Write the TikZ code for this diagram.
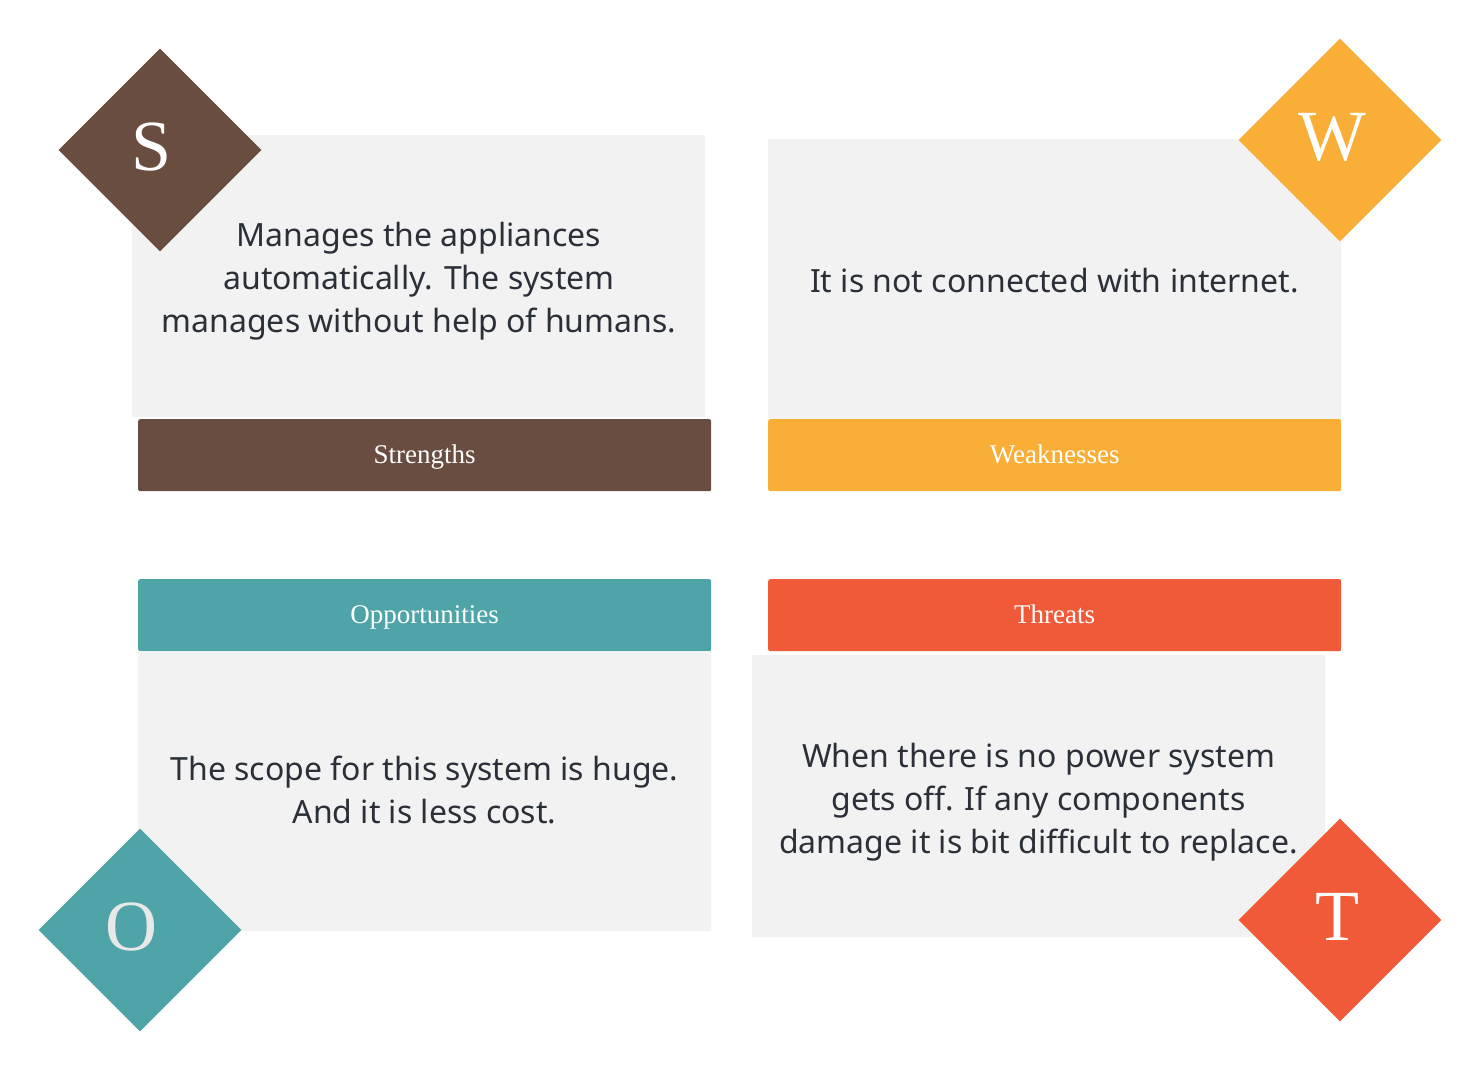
\documentclass[tikz,border=0pt]{standalone}
\usepackage{fontspec}
\setmainfont{Liberation Serif}
\newfontfamily\bodyfont{Noto Sans}
\usetikzlibrary{shapes.geometric}

\definecolor{sbrown}{HTML}{694D40}
\definecolor{worange}{HTML}{F9AE38}
\definecolor{oteal}{HTML}{4FA4A8}
\definecolor{tred}{HTML}{F15A38}
\definecolor{panelgray}{HTML}{F2F2F2}
\definecolor{bodytext}{HTML}{2B3038}
\definecolor{lettergray}{HTML}{E8E8E8}

\tikzset{
  panel/.style={fill=panelgray, draw=none, rounded corners=1pt, inner sep=0pt,
    minimum width=573pt, minimum height=282pt, anchor=north west},
  bodytxt/.style={text=bodytext, align=center, inner sep=0pt,
    font=\bodyfont\fontsize{32}{43}\selectfont},
  labelbar/.style={fill=#1, draw=none, rounded corners=2pt, inner sep=0pt,
    minimum width=573pt, minimum height=72pt, anchor=north west,
    text height=21.5pt, text depth=5pt,
    text=white, font=\fontsize{27}{30}\selectfont},
  badge/.style={diamond, fill=#1, draw=none, inner sep=0pt, aspect=1,
    minimum width=203pt, minimum height=203pt},
  badgeletter/.style={text=white, inner sep=0pt, font=\fontsize{72}{72}\selectfont},
}

\begin{document}
\begin{tikzpicture}[x=1pt, y=-1pt]
  \useasboundingbox (0,0) rectangle (1480,1070);

  % Strengths
  \node[panel] (spanel) at (132,135) {};
  \node[bodytxt] (stext) at (419,281) {Manages the appliances\\automatically. The system\\manages without help of humans.};
  \node[labelbar=sbrown] (sbar) at (138,419) {Strengths};
  \node[badge=sbrown] (sbadge) at (160,150) {};
  \node[badgeletter] (sletter) at ([shift={(-8,-3)}]sbadge.center) {S};

  % Weaknesses
  \node[panel, minimum height=280pt] (wpanel) at (768,139) {};
  \node[bodytxt] (wtext) at (1054.5,281) {It is not connected with internet.};
  \node[labelbar=worange] (wbar) at (768,419) {Weaknesses};
  \node[badge=worange] (wbadge) at (1340,140) {};
  \node[badgeletter] (wletter) at ([shift={(-8,-3)}]wbadge.center) {W};

  % Opportunities
  \node[labelbar=oteal] (obar) at (138,579) {Opportunities};
  \node[panel, minimum height=280pt] (opanel) at (138,651) {};
  \node[bodytxt] (otext) at (424.5,790) {The scope for this system is huge.\\And it is less cost.};
  \node[badge=oteal] (obadge) at (140,930) {};
  \node[badgeletter, text=lettergray] (oletter) at ([shift={(-9,-3)}]obadge.center) {O};

  % Threats
  \node[labelbar=tred] (tbar) at (768,579) {Threats};
  \node[panel] (tpanel) at (752,655) {};
  \node[bodytxt] (ttext) at (1038.5,802) {When there is no power system\\gets off. If any components\\damage it is bit difficult to replace.};
  \node[badge=tred] (tbadge) at (1340,920) {};
  \node[badgeletter] (tletter) at ([shift={(-3,-3)}]tbadge.center) {T};
\end{tikzpicture}
\end{document}
